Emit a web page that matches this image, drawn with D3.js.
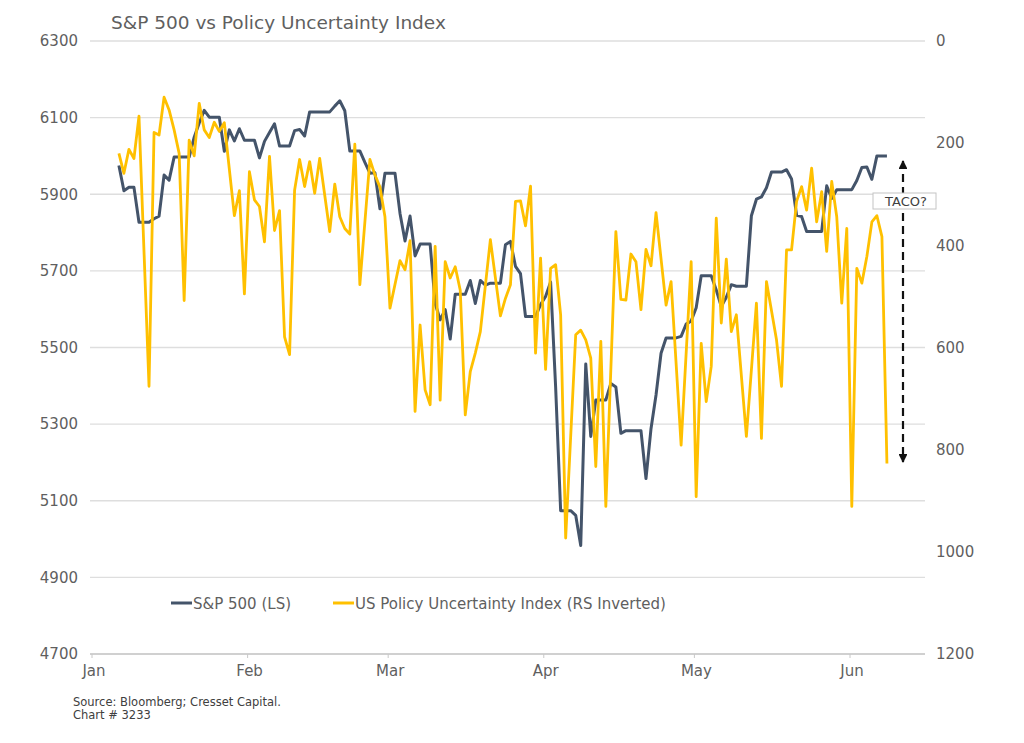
<!DOCTYPE html>
<html><head><meta charset="utf-8">
<script src="https://cdn.jsdelivr.net/npm/d3@7"></script>
<style>body{margin:0;background:#fff} svg{display:block} text{font-family:"DejaVu Sans",sans-serif}</style>
</head><body><svg id="c" width="1024" height="743"></svg>
<script>
const chartTitle = "S&P 500 vs Policy Uncertainty Index";
const leftTicks = [4700,4900,5100,5300,5500,5700,5900,6100,6300];
const rightTicks = [0,200,400,600,800,1000,1200];
const monthTicks = ["01-01","02-01","03-01","04-01","05-01","06-01"];
const monthLabels = ["Jan","Feb","Mar","Apr","May","Jun"];
const seriesNames = ["S&P 500 (LS)","US Policy Uncertainty Index (RS Inverted)"];
const annotationText = "TACO?";
const sourceLines = ["Source: Bloomberg; Cresset Capital.","Chart # 3233"];

// S&P 500 (trading days; chart holds last value over non-trading days)
const spxDates = ["01-06","01-07","01-08","01-10","01-13","01-14","01-15","01-16","01-17","01-21","01-22","01-23","01-24","01-27","01-28","01-29","01-30","01-31",
"02-03","02-04","02-05","02-06","02-07","02-10","02-11","02-12","02-13","02-14","02-18","02-19","02-20","02-21","02-24","02-25","02-26","02-27","02-28",
"03-03","03-04","03-05","03-06","03-07","03-10","03-11","03-12","03-13","03-14","03-17","03-18","03-19","03-20","03-21","03-24","03-25","03-26","03-27","03-28","03-31",
"04-01","04-02","04-03","04-04","04-07","04-08","04-09","04-10","04-11","04-14","04-15","04-16","04-17","04-21","04-22","04-23","04-24","04-25","04-28","04-29","04-30",
"05-01","05-02","05-05","05-06","05-07","05-08","05-09","05-12","05-13","05-14","05-15","05-16","05-19","05-20","05-21","05-22","05-23","05-27","05-28","05-29","05-30",
"06-02","06-03","06-04","06-05","06-06"];
const spxValues = [5975,5909,5918,5827,5836,5843,5950,5937,5997,6049,6086,6119,6101,6012,6068,6039,6071,6041,
5995,6038,6061,6084,6026,6066,6069,6052,6115,6115,6130,6144,6118,6013,5983,5955,5956,5862,5955,
5850,5778,5843,5739,5770,5615,5572,5599,5522,5639,5675,5615,5675,5663,5668,5768,5777,5712,5693,5581,5612,
5633,5671,5397,5074,5062,4983,5457,5268,5363,5406,5397,5276,5283,5158,5288,5376,5485,5525,5529,5561,5569,
5604,5687,5650,5607,5631,5664,5660,5844,5887,5893,5917,5958,5964,5940,5845,5842,5803,5922,5889,5912,5912,
5936,5970,5971,5939,6000];
const spxEnd = "06-08";

// US Policy Uncertainty Index (daily, plotted on inverted right scale)
const epuDates = ["01-06","01-07","01-08","01-09","01-10","01-12","01-13","01-14","01-15","01-16","01-17","01-18","01-19","01-20","01-21","01-22","01-23","01-24","01-25","01-26","01-27","01-29","01-30","01-31",
"02-01","02-02","02-03","02-04","02-05","02-06","02-07","02-08","02-09","02-10","02-11","02-12","02-13","02-14","02-15","02-17","02-18","02-19","02-20","02-21","02-22","02-23","02-25","02-26","02-27","02-28",
"03-01","03-03","03-04","03-05","03-06","03-07","03-08","03-09","03-10","03-11","03-12","03-13","03-14","03-15","03-16","03-17","03-18","03-19","03-21","03-23","03-24","03-25","03-26","03-27","03-28","03-29","03-30","03-31",
"04-01","04-02","04-03","04-04","04-05","04-07","04-08","04-09","04-10","04-11","04-12","04-13","04-15","04-16","04-17","04-18","04-19","04-20","04-21","04-22","04-23","04-25","04-26","04-28","04-30",
"05-01","05-02","05-03","05-04","05-05","05-06","05-07","05-08","05-09","05-11","05-13","05-14","05-15","05-17","05-18","05-19","05-20","05-21","05-22","05-23","05-24","05-25","05-26","05-27","05-28","05-29","05-30","05-31",
"06-01","06-02","06-03","06-04","06-05","06-06","06-07","06-08"];
const epuValues = [220,259,212,230,147,676,179,184,110,135,174,220,508,194,225,122,174,189,159,177,160,342,293,495,
256,311,324,393,226,371,332,579,614,292,232,285,236,298,230,373,280,344,367,378,202,477,232,262,286,344,
523,430,448,391,725,556,683,712,402,703,432,464,442,488,732,647,611,569,389,538,504,477,314,313,362,284,611,425,
643,445,438,536,973,575,566,585,621,833,588,911,373,506,507,417,432,526,408,440,336,517,471,791,432,
892,592,706,637,347,552,427,569,536,774,513,778,471,585,676,409,409,314,285,331,249,354,295,412,275,344,513,367,
911,445,474,422,354,342,383,827];

const P = s => d3.utcParse("%Y-%m-%d")("2025-" + s);
const svg = d3.select("#c");
const L = 90, R = 925, T = 41, B = 654;

const x = d3.scaleUtc().domain([P("01-01"), P("06-16")]).range([91.5, 924.8]);
const xd = d => x(d3.utcHour.offset(d, 11));
const yL = d3.scaleLinear().domain([4700, 6300]).range([B, T]);
const yR = d3.scaleLinear().domain([0, 1200]).range([T, B]);

// gridlines
svg.append("g").selectAll("line").data(leftTicks).join("line")
  .attr("x1", L).attr("x2", R)
  .attr("y1", d => yL(d)).attr("y2", d => yL(d))
  .attr("stroke", (d,i) => i === 0 ? "#d0d0d0" : "#dedede")
  .attr("stroke-width", (d,i) => i === 0 ? 2 : 1.4);

// axes
const gl = svg.append("g").attr("transform", `translate(${L},0)`)
  .call(d3.axisLeft(yL).tickValues(leftTicks).tickSize(0).tickPadding(12).tickFormat(d3.format("d")));
const gr = svg.append("g").attr("transform", `translate(${R},0)`)
  .call(d3.axisRight(yR).tickValues(rightTicks).tickSize(0).tickPadding(11).tickFormat(d3.format("d")));
const gb = svg.append("g").attr("transform", `translate(0,${B})`)
  .call(d3.axisBottom(x).tickValues(monthTicks.map(P)).tickSize(4).tickPadding(7).tickFormat((d,i) => monthLabels[i]));
[gl, gr, gb].forEach(g => {
  g.select(".domain").remove();
  g.selectAll("text").attr("fill", "#5f5f5f").attr("font-size", 15).attr("font-family", "DejaVu Sans");
  g.selectAll(".tick line").attr("stroke", "#c8c8c8");
});
gb.selectAll("text").attr("dx", 2);

// S&P line with carry-forward over non-trading days
const spxPts = [];
const spxD = spxDates.map(P);
const endD = P(spxEnd);
spxD.forEach((d, i) => {
  spxPts.push([d, spxValues[i]]);
  const next = i < spxD.length - 1 ? spxD[i+1] : d3.utcDay.offset(endD, 1);
  const prevDay = d3.utcDay.offset(next, -1);
  if (prevDay > d) spxPts.push([prevDay, spxValues[i]]);
});
svg.append("path").datum(spxPts)
  .attr("fill", "none").attr("stroke", "#44546a").attr("stroke-width", 3)
  .attr("stroke-linejoin", "round")
  .attr("d", d3.line().x(p => xd(p[0])).y(p => yL(p[1])));

const epuPts = epuDates.map((s, i) => [P(s), epuValues[i]]);
svg.append("path").datum(epuPts)
  .attr("fill", "none").attr("stroke", "#ffc000").attr("stroke-width", 2.8)
  .attr("stroke-linejoin", "round")
  .attr("d", d3.line().x(p => xd(p[0])).y(p => yR(p[1])));

// title
svg.append("text").attr("x", 111).attr("y", 29).attr("font-size", 18.5)
  .attr("fill", "#5f5f5f").text(chartTitle);

// legend
const lg = [{x: 171, c: "#44546a"}, {x: 333, c: "#ffc000"}];
lg.forEach((l, i) => {
  svg.append("line").attr("x1", l.x).attr("x2", l.x + 21).attr("y1", 603).attr("y2", 603)
    .attr("stroke", l.c).attr("stroke-width", 3);
  svg.append("text").attr("x", l.x + 22).attr("y", 608.5).attr("font-size", 15)
    .attr("fill", "#5f5f5f").text(seriesNames[i]);
});

// annotation arrow
const defs = svg.append("defs");
["s","e"].forEach(k => {
  defs.append("marker").attr("id", "ah" + k).attr("viewBox", "0 0 10 10")
    .attr("refX", 9).attr("refY", 5).attr("markerWidth", 4).attr("markerHeight", 4)
    .attr("orient", "auto-start-reverse")
    .append("path").attr("d", "M0,0L10,5L0,10Z").attr("fill", "#111");
});
svg.append("line").attr("x1", 903).attr("x2", 903).attr("y1", 161).attr("y2", 462)
  .attr("stroke", "#111").attr("stroke-width", 2.2).attr("stroke-dasharray", "8,5")
  .attr("marker-start", "url(#ahs)").attr("marker-end", "url(#ahe)");
svg.append("rect").attr("x", 873).attr("y", 193).attr("width", 63).attr("height", 16)
  .attr("fill", "#fff").attr("stroke", "#c4c4c4").attr("stroke-width", 1);
svg.append("text").attr("x", 906).attr("y", 206).attr("text-anchor", "middle")
  .attr("font-size", 13).attr("fill", "#404040").text(annotationText);

// source
sourceLines.forEach((s, i) => {
  svg.append("text").attr("x", 73).attr("y", 706 + i * 13)
    .attr("font-family", "Liberation Sans").attr("font-size", 11.5)
    .attr("fill", "#404040").text(s);
});
</script></body></html>
